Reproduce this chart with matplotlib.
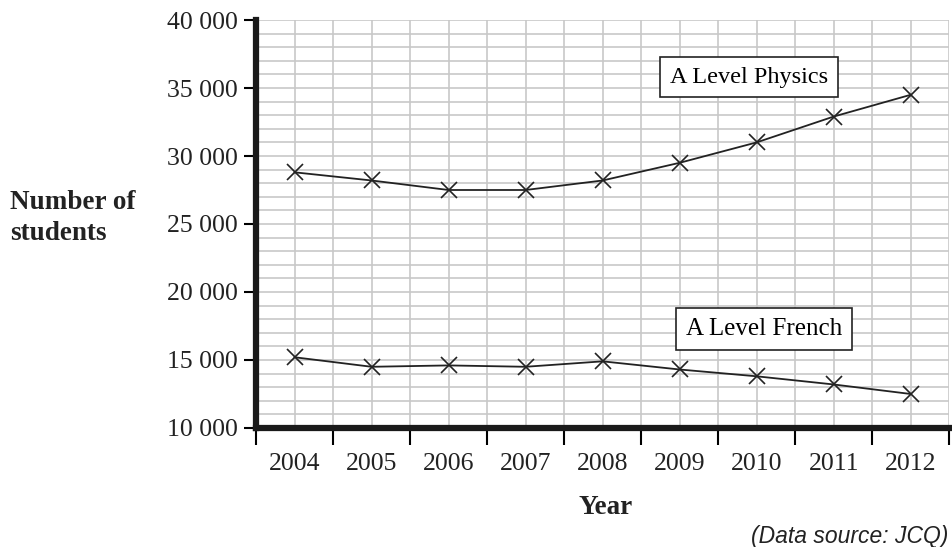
import matplotlib
matplotlib.use("Agg")
import matplotlib.pyplot as plt
from matplotlib.ticker import FixedLocator, NullFormatter

years = [2004, 2005, 2006, 2007, 2008, 2009, 2010, 2011, 2012]
physics = [28800, 28200, 27500, 27500, 28200, 29500, 31000, 32900, 34500]
french = [15200, 14500, 14600, 14500, 14900, 14300, 13800, 13200, 12500]
ytick_vals = [10000, 15000, 20000, 25000, 30000, 35000, 40000]
ytick_labels = ["10 000", "15 000", "20 000", "25 000", "30 000", "35 000", "40 000"]

plt.rcParams['font.family'] = ['Liberation Serif', 'DejaVu Serif']

fig = plt.figure(figsize=(9.52, 5.47), dpi=100)
ax = fig.add_axes([0.269, 0.2176, 0.728, 0.7458])

x0, x1 = years[0] - 0.5, years[-1] + 0.5
ax.set_xlim(x0, x1)
ax.set_ylim(10000, 40000)

# grid
for v in range(10000, 40001, 1000):
    ax.axhline(v, color='#c8c8c8', lw=1.2, zorder=0)
xs = [x0 + 0.5 * i for i in range(int((x1 - x0) * 2) + 1)]
for v in xs:
    ax.axvline(v, color='#c8c8c8', lw=1.2, zorder=0)

ax.plot(years, physics, color='#222222', lw=1.3, marker='x', ms=11, mew=1.2, zorder=3)
ax.plot(years, french, color='#222222', lw=1.3, marker='x', ms=11, mew=1.2, zorder=3)

# ticks
ax.yaxis.set_major_locator(FixedLocator(ytick_vals))
ax.set_yticklabels(ytick_labels, fontsize=18.5, color='#222222')
ax.tick_params(axis='y', direction='out', length=9, width=1.5, pad=4)

ax.xaxis.set_major_locator(FixedLocator([y + 0.5 for y in [years[0] - 1] + years]))
ax.xaxis.set_major_formatter(NullFormatter())
ax.xaxis.set_minor_locator(FixedLocator(years))
ax.set_xticklabels([str(y) for y in years], minor=True, fontsize=18.5, color='#222222')
ax.tick_params(axis='x', which='major', direction='out', length=12, width=1.5)
ax.tick_params(axis='x', which='minor', length=0, pad=18)

for s in ['top', 'right']:
    ax.spines[s].set_visible(False)
for s in ['left', 'bottom']:
    ax.spines[s].set_linewidth(4.5)
    ax.spines[s].set_color('#1a1a1a')
    ax.spines[s].set_zorder(5)

box = dict(boxstyle='square,pad=0.4', fc='white', ec='#222222', lw=1.2)
ax.text(2009.9, 35800, "A Level Physics", fontsize=17.5, ha='center', va='center', bbox=box, zorder=6)
ax.text(2010.1, 17300, "A Level French", fontsize=18, ha='center', va='center', bbox=box, zorder=6)

fig.text(10 / 952, 1 - 218 / 547, "Number of\nstudents", fontsize=19.5, fontweight='bold',
         ha='left', va='center', linespacing=1.3, color='#222222')
fig.text(606 / 952, 1 - 508 / 547, "Year", fontsize=19.5, fontweight='bold', ha='center', va='center',
         color='#222222')
fig.text(948 / 952, 1 - 536 / 547, "(Data source: JCQ)", fontsize=16.5, style='italic',
         ha='right', va='center', color='#222222',
         family=['Liberation Sans Narrow', 'Liberation Sans', 'DejaVu Sans'])

fig.savefig("out.png", dpi=100)
